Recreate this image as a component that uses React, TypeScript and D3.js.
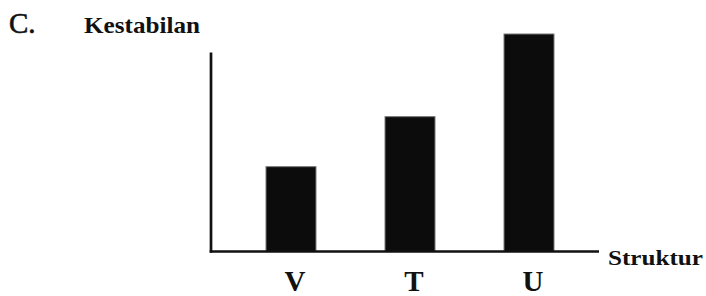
import React from "react";
import * as d3 from "d3";

const categories = ["V", "T", "U"];
const values = [3.9, 6.2, 10];
const yTitle = "Kestabilan";
const xTitle = "Struktur";
const panelLabel = "C.";

export default function App() {
  const W = 706, H = 296;
  const y = d3.scaleLinear().domain([0, 10]).range([251.5, 34]);
  const x = d3.scaleBand().domain(categories).range([206.5, 613.5]).paddingInner(0.58).paddingOuter(0.5);
  const axisX0 = 211, axisX1 = 599, axisTop = y(9.15);
  const font = "Liberation Serif";
  return (
    <svg width={W} height={H} style={{ position: "absolute", left: 0, top: 0, background: "#fff" }}>
      <text x={9} y={33} fontFamily={font} fontSize={29} fill="#111" stroke="#111" strokeWidth={0.6}>{panelLabel}</text>
      <text x={84} y={33} fontFamily={font} fontSize={23} fontWeight="bold" fill="#111" textLength={116} lengthAdjust="spacingAndGlyphs">{yTitle}</text>
      {categories.map((c, i) => (
        <rect key={c} x={x(c)} y={y(values[i])} width={x.bandwidth()} height={y(0) - y(values[i])} fill="#0c0c0c" stroke="#777" strokeWidth={1} />
      ))}
      <line x1={axisX0} x2={axisX0} y1={axisTop} y2={y(0) + 1.2} stroke="#111" strokeWidth={2.7} />
      <line x1={axisX0 - 1.3} x2={axisX1} y1={y(0)} y2={y(0)} stroke="#111" strokeWidth={2.5} />
      {categories.map((c) => (
        <text key={c} x={(x(c) as number) + x.bandwidth() / 2 + 4} y={291} textAnchor="middle" fontFamily={font} fontSize={29} fontWeight="bold" fill="#111">{c}</text>
      ))}
      <text x={608} y={265} fontFamily={font} fontSize={22} fontWeight="bold" fill="#111" textLength={95} lengthAdjust="spacingAndGlyphs">{xTitle}</text>
    </svg>
  );
}
